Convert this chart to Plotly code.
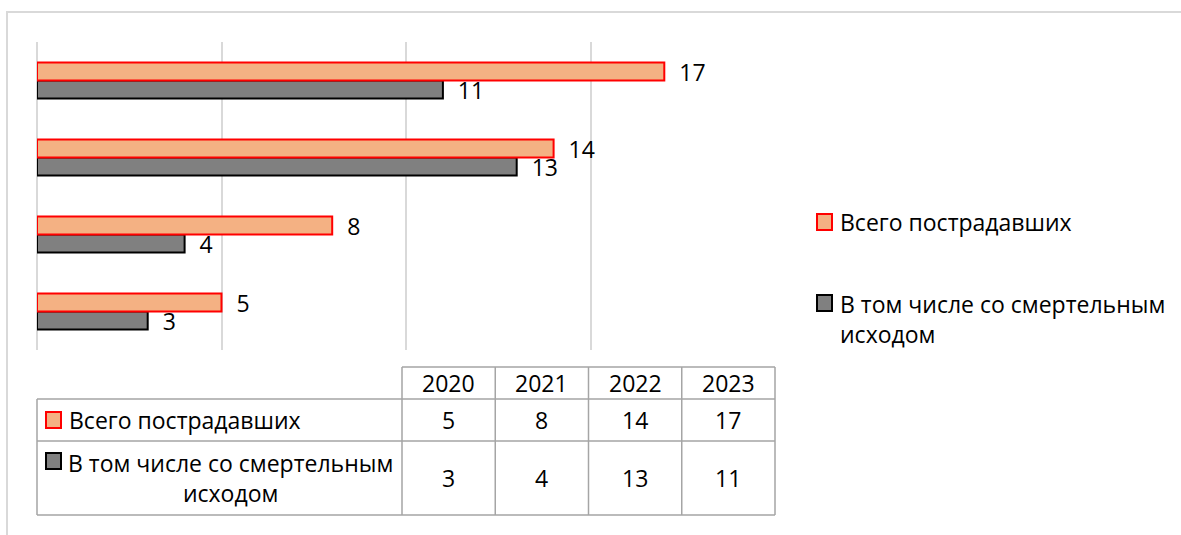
import plotly.graph_objects as go

# ---- data ----
years = ["2020", "2021", "2022", "2023"]
series_names = ["Всего пострадавших", "В том числе со смертельным исходом"]
total_injured = [5, 8, 14, 17]
fatal = [3, 4, 13, 11]

W, H = 1181, 535
FONT = "Open Sans"
FS = 23

def px(x):
    return x / W

def py(y):
    return 1 - y / H

ORANGE = "#F4B183"
RED = "#FF0000"
GRAY = "#808080"
BLACK = "#000000"
GRID = "#D9D9D9"
TBL = "#A5A5A5"

fig = go.Figure()

# gray first -> lower bar within each group; orange on top
fig.add_trace(go.Bar(
    y=years, x=fatal, orientation="h", name=series_names[1],
    marker=dict(color=GRAY, line=dict(color=BLACK, width=2)),
    texttemplate="  %{x}", textposition="outside", constraintext="none",
    cliponaxis=False, textfont=dict(family=FONT, size=FS, color="black"),
    showlegend=False,
))
fig.add_trace(go.Bar(
    y=years, x=total_injured, orientation="h", name=series_names[0],
    marker=dict(color=ORANGE, line=dict(color=RED, width=2)),
    texttemplate="  %{x}", textposition="outside", constraintext="none",
    cliponaxis=False, textfont=dict(family=FONT, size=FS, color="black"),
    showlegend=False,
))

shapes = []
annotations = []

# outer chart frame (top and left edges visible; right/bottom are off-canvas)
shapes.append(dict(type="line", xref="paper", yref="paper",
                   x0=px(6), x1=1, y0=py(12), y1=py(12),
                   line=dict(color=GRID, width=2), layer="below"))
shapes.append(dict(type="line", xref="paper", yref="paper",
                   x0=px(7), x1=px(7), y0=py(11), y1=0,
                   line=dict(color=GRID, width=2), layer="below"))

# ---- legend on the right ----
shapes.append(dict(type="rect", xref="paper", yref="paper",
                   x0=px(817), x1=px(832), y0=py(214), y1=py(230),
                   fillcolor=ORANGE, line=dict(color=RED, width=2)))
annotations.append(dict(xref="paper", yref="paper", x=px(838), y=py(222),
                        xanchor="left", yanchor="middle", text=series_names[0], showarrow=False,
                        align="left", font=dict(family=FONT, size=FS, color="black")))
shapes.append(dict(type="rect", xref="paper", yref="paper",
                   x0=px(817), x1=px(832), y0=py(295), y1=py(311),
                   fillcolor=GRAY, line=dict(color=BLACK, width=2)))
annotations.append(dict(xref="paper", yref="paper", x=px(838), y=py(319),
                        xanchor="left", yanchor="middle",
                        text="В том числе со смертельным<br>исходом", showarrow=False,
                        align="left", font=dict(family=FONT, size=FS, color="black")))

# ---- data table ----
col_left, col_split, col_right = 37, 402, 775
ncol = len(years)
cw = (col_right - col_split) / ncol
row_y = [367, 399, 441, 515]
lw = 1.5

def hline(x0, x1, y):
    shapes.append(dict(type="line", xref="paper", yref="paper", x0=px(x0), x1=px(x1),
                       y0=py(y), y1=py(y), line=dict(color=TBL, width=lw)))

def vline(x, y0, y1):
    shapes.append(dict(type="line", xref="paper", yref="paper", x0=px(x), x1=px(x),
                       y0=py(y0), y1=py(y1), line=dict(color=TBL, width=lw)))

hline(col_split, col_right, row_y[0])
for yy in row_y[1:]:
    hline(col_left, col_right, yy)
vline(col_left, row_y[1], row_y[3])
for k in range(ncol + 1):
    vline(col_split + k * cw, row_y[0], row_y[3])

# header
for k, yr in enumerate(years):
    annotations.append(dict(xref="paper", yref="paper", x=px(col_split + (k + 0.5) * cw),
                            y=py((row_y[0] + row_y[1]) / 2), xanchor="center", yanchor="middle",
                            text=yr, showarrow=False, font=dict(family=FONT, size=FS, color="black")))

rows = [(total_injured, ORANGE, RED), (fatal, GRAY, BLACK)]
for r, (vals, fc, lc) in enumerate(rows):
    yc = (row_y[r + 1] + row_y[r + 2]) / 2
    for k, v in enumerate(vals):
        annotations.append(dict(xref="paper", yref="paper", x=px(col_split + (k + 0.5) * cw),
                                y=py(yc), xanchor="center", yanchor="middle",
                                text=str(v), showarrow=False,
                                font=dict(family=FONT, size=FS, color="black")))

# row labels
shapes.append(dict(type="rect", xref="paper", yref="paper",
                   x0=px(46), x1=px(61), y0=py(412), y1=py(428),
                   fillcolor=ORANGE, line=dict(color=RED, width=2)))
annotations.append(dict(xref="paper", yref="paper", x=px(67), y=py(420),
                        xanchor="left", yanchor="middle", text=series_names[0],
                        showarrow=False, font=dict(family=FONT, size=FS, color="black")))
shapes.append(dict(type="rect", xref="paper", yref="paper",
                   x0=px(46), x1=px(61), y0=py(453), y1=py(469),
                   fillcolor=GRAY, line=dict(color=BLACK, width=2)))
annotations.append(dict(xref="paper", yref="paper", x=px(230), y=py(478),
                        xanchor="center", yanchor="middle",
                        text="В том числе со смертельным<br>исходом", align="center",
                        showarrow=False, font=dict(family=FONT, size=FS, color="black")))

fig.update_layout(
    width=W, height=H,
    margin=dict(l=0, r=0, t=0, b=0),
    paper_bgcolor="white", plot_bgcolor="white",
    barmode="group", bargap=1 - 36 / 77, bargroupgap=0,
    showlegend=False,
    xaxis=dict(domain=[px(37), px(775)], range=[0, 20], dtick=5, tick0=0,
               showgrid=True, gridcolor=GRID, gridwidth=2,
               zeroline=True, zerolinecolor=GRID, zerolinewidth=2,
               showticklabels=False, ticks="", showline=False, fixedrange=True),
    yaxis=dict(domain=[py(350), py(42)], showticklabels=False, ticks="",
               showgrid=False, zeroline=False, showline=False,
               categoryorder="array", categoryarray=years, fixedrange=True),
    shapes=shapes,
    annotations=annotations,
    font=dict(family=FONT, size=FS, color="black"),
)

fig.write_html("out.html", config={"displayModeBar": False},
               post_script="document.body.style.margin='0';document.body.style.overflow='hidden';")
